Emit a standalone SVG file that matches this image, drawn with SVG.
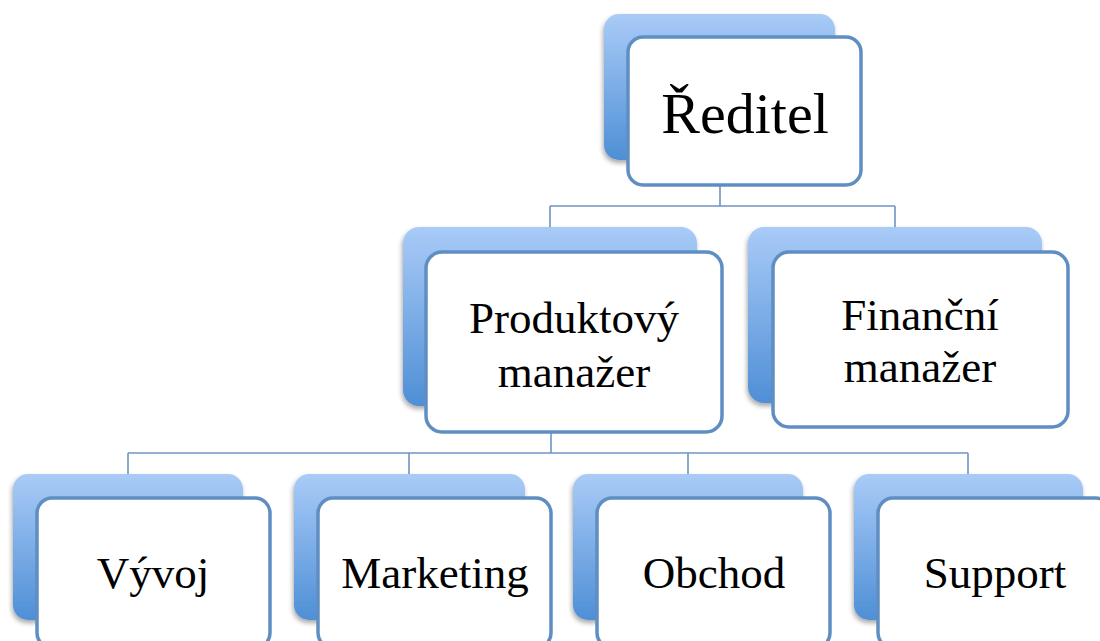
<svg xmlns="http://www.w3.org/2000/svg" width="1100" height="641" viewBox="0 0 1100 641">
  <defs>
    <linearGradient id="backFill" x1="0" y1="0" x2="0" y2="1">
      <stop offset="0" stop-color="#a9cbf7"/>
      <stop offset="1" stop-color="#4f8fd6"/>
    </linearGradient>
    <filter id="softShadow" x="-10%" y="-10%" width="120%" height="125%">
      <feGaussianBlur in="SourceAlpha" stdDeviation="2.5"/>
      <feOffset dx="-1" dy="3" result="blur"/>
      <feComponentTransfer><feFuncA type="linear" slope="0.35"/></feComponentTransfer>
      <feMerge><feMergeNode/><feMergeNode in="SourceGraphic"/></feMerge>
    </filter>
  </defs>
  <style>
    .back { fill: url(#backFill); filter: url(#softShadow); }
    .front { fill: #ffffff; stroke: #5f8fc2; stroke-width: 3.5; }
    .link { fill: none; stroke: #6f95c3; stroke-width: 1.6; }
  </style>
  <rect width="1100" height="641" fill="#ffffff"/>

  <!-- connectors -->
  <g id="connectors">
    <path class="link" d="M720,160 V206 M550,206 H895 M550,206 V227 M895,206 V227"/>
    <path class="link" d="M551,407 V453 M128,453 H968 M128,453 V474 M409,453 V474 M688,453 V474 M968,453 V474"/>
  </g>

  <!-- each node: gradient card behind, outlined white card in front -->
  <g id="nodes" font-family="'Liberation Serif', serif" font-size="45" text-anchor="middle" fill="#000000">
    <g id="reditel">
      <rect class="back" x="604" y="14" width="231" height="146" rx="15"/>
      <rect class="front" x="628" y="37" width="233" height="148" rx="15"/>
      <text x="745" y="133" font-size="58">Ředitel</text>
    </g>

    <g id="produktovy-manazer">
      <rect class="back" x="403" y="227" width="294" height="179" rx="16"/>
      <rect class="front" x="426" y="252" width="296" height="180" rx="16"/>
      <text x="574" y="333">Produktový</text>
      <text x="574" y="387">manažer</text>
    </g>
    <g id="financni-manazer">
      <rect class="back" x="748" y="227" width="294" height="176" rx="16"/>
      <rect class="front" x="773" y="252" width="295" height="175" rx="16"/>
      <text x="920" y="330">Finanční</text>
      <text x="920" y="382">manažer</text>
    </g>

    <g id="vyvoj">
      <rect class="back" x="13" y="474" width="230" height="146" rx="15"/>
      <rect class="front" x="37" y="498" width="233" height="150" rx="15"/>
      <text x="153" y="588">Vývoj</text>
    </g>
    <g id="marketing">
      <rect class="back" x="294" y="474" width="231" height="146" rx="15"/>
      <rect class="front" x="318" y="498" width="233" height="150" rx="15"/>
      <text x="435" y="588">Marketing</text>
    </g>
    <g id="obchod">
      <rect class="back" x="573" y="474" width="230" height="146" rx="15"/>
      <rect class="front" x="597" y="498" width="233" height="150" rx="15"/>
      <text x="714" y="588">Obchod</text>
    </g>
    <g id="support">
      <rect class="back" x="854" y="474" width="229" height="146" rx="15"/>
      <rect class="front" x="878" y="498" width="233" height="150" rx="15"/>
      <text x="995" y="588">Support</text>
    </g>
  </g>
</svg>
